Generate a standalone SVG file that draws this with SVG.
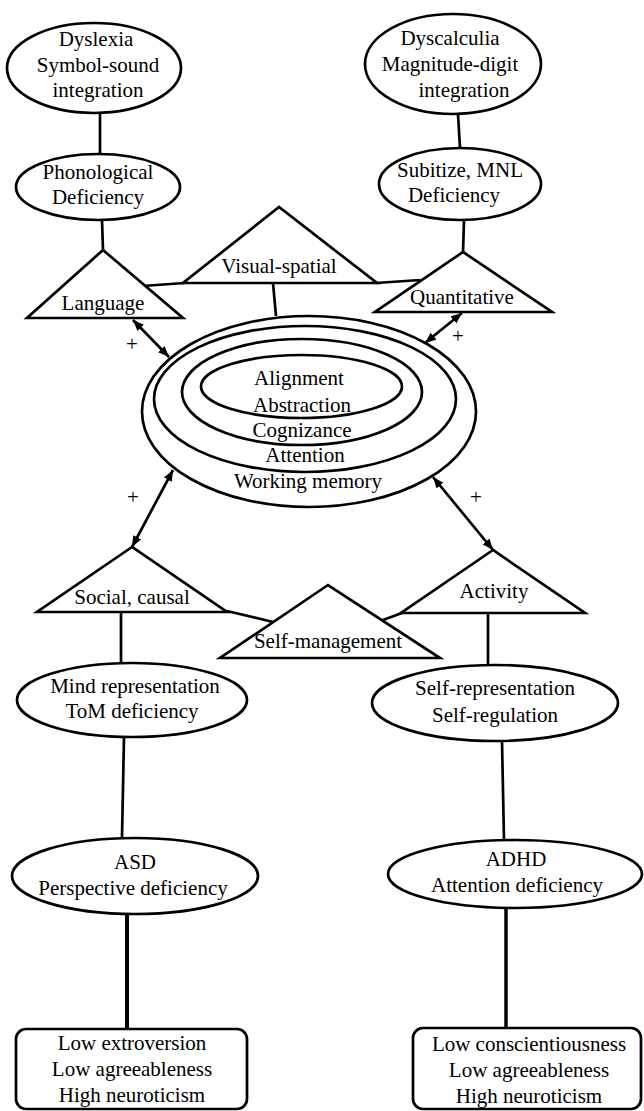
<svg xmlns="http://www.w3.org/2000/svg" width="644" height="1111" viewBox="0 0 644 1111">
<defs>
<style>
.s{fill:#fff;stroke:#000;stroke-width:2.7}
.n{fill:none;stroke:#000;stroke-width:2.7}
.c{fill:none;stroke:#000;stroke-width:2.7}
.t{font-family:"Liberation Serif","Times New Roman",serif;font-size:21px;fill:#000;text-anchor:middle}
</style>
<marker id="ah" markerUnits="userSpaceOnUse" markerWidth="12" markerHeight="10" refX="11" refY="4.5" orient="auto-start-reverse">
<path d="M0,0 L11,4.5 L0,9 z" fill="#000"/>
</marker>
</defs>
<rect width="644" height="1111" fill="#fff"/>
<g id="connectors">
<line class="c" x1="100" y1="113" x2="100" y2="154"/>
<line class="c" x1="102" y1="220" x2="103" y2="250"/>
<line class="c" x1="143" y1="286" x2="184" y2="283"/>
<line class="c" x1="376" y1="283" x2="420" y2="280"/>
<line class="c" x1="273" y1="283" x2="276" y2="316"/>
<line class="c" x1="458" y1="114" x2="460" y2="148"/>
<line class="c" x1="464" y1="220" x2="463" y2="252"/>
<line class="c" x1="133" y1="320" x2="169" y2="357" marker-start="url(#ah)" marker-end="url(#ah)"/>
<line class="c" x1="462" y1="313" x2="425" y2="343" marker-start="url(#ah)" marker-end="url(#ah)"/>
<line class="c" x1="173" y1="470" x2="132" y2="547" marker-start="url(#ah)" marker-end="url(#ah)"/>
<line class="c" x1="433" y1="477" x2="493" y2="550" marker-start="url(#ah)" marker-end="url(#ah)"/>
<line class="c" x1="227" y1="611" x2="273" y2="622"/>
<line class="c" x1="383" y1="620" x2="402" y2="613"/>
<line class="c" x1="121" y1="612" x2="121" y2="663"/>
<line class="c" x1="488" y1="613" x2="488" y2="665"/>
<line class="c" x1="124" y1="737" x2="122" y2="838"/>
<line class="c" x1="502" y1="741" x2="504" y2="840"/>
<line class="c" style="stroke-width:4" x1="127" y1="914" x2="127" y2="1029"/>
<line class="c" style="stroke-width:3.5" x1="506" y1="908" x2="506" y2="1028"/>
</g>
<g id="dyslexia">
<ellipse class="s" cx="94" cy="68" rx="87" ry="45"/>
<text class="t" x="96" y="46">Dyslexia</text>
<text class="t" x="98" y="72">Symbol-sound</text>
<text class="t" x="98" y="97">integration</text>
</g>
<g id="phonological">
<ellipse class="s" cx="98" cy="187" rx="82" ry="33"/>
<text class="t" x="98" y="179">Phonological</text>
<text class="t" x="98" y="204">Deficiency</text>
</g>
<g id="language">
<polygon class="s" points="103,250 27,318 183,318"/>
<text class="t" x="103" y="310">Language</text>
</g>
<g id="visual-spatial">
<polygon class="s" points="279,207 183,283 377,283"/>
<text class="t" x="279" y="273">Visual-spatial</text>
</g>
<g id="quantitative">
<polygon class="s" points="463,252 375,312 552,312"/>
<text class="t" x="462" y="304">Quantitative</text>
</g>
<g id="dyscalculia">
<ellipse class="s" cx="453" cy="64" rx="88" ry="50"/>
<text class="t" x="450" y="45">Dyscalculia</text>
<text class="t" x="450" y="71">Magnitude-digit</text>
<text class="t" x="464" y="97">integration</text>
</g>
<g id="subitize">
<ellipse class="s" cx="460" cy="184" rx="81" ry="36"/>
<text class="t" x="460" y="177">Subitize, MNL</text>
<text class="t" x="454" y="202">Deficiency</text>
</g>
<g id="core">
<ellipse class="n" cx="309" cy="411.5" rx="167" ry="95.5"/>
<ellipse class="n" cx="305" cy="399" rx="151" ry="73"/>
<ellipse class="n" cx="302" cy="392" rx="120" ry="53"/>
<ellipse class="n" cx="301.5" cy="386.5" rx="100.5" ry="31.5"/>
<text class="t" x="299" y="385">Alignment</text>
<text class="t" x="302" y="412">Abstraction</text>
<text class="t" x="302" y="437">Cognizance</text>
<text class="t" x="305" y="462">Attention</text>
<text class="t" x="308" y="488">Working memory</text>
</g>
<g id="plus-signs">
<text class="t" x="132" y="351">+</text>
<text class="t" x="458" y="343">+</text>
<text class="t" x="133" y="504">+</text>
<text class="t" x="476" y="504">+</text>
</g>
<g id="social">
<polygon class="s" points="132,547 37,612 227,612"/>
<text class="t" x="132" y="604">Social, causal</text>
</g>
<g id="self-management">
<polygon class="s" points="328,585 220,658 440,658"/>
<text class="t" x="328" y="648">Self-management</text>
</g>
<g id="activity">
<polygon class="s" points="493,550 401,613 585,613"/>
<text class="t" x="494" y="598">Activity</text>
</g>
<g id="mind-representation">
<ellipse class="s" cx="132" cy="700" rx="115" ry="37"/>
<text class="t" x="135" y="693">Mind representation</text>
<text class="t" x="132" y="718">ToM deficiency</text>
</g>
<g id="asd">
<ellipse class="s" cx="135" cy="876" rx="123" ry="38"/>
<text class="t" x="135" y="869">ASD</text>
<text class="t" x="133" y="895">Perspective deficiency</text>
</g>
<g id="traits-left">
<rect class="s" x="16" y="1029" width="231" height="80" rx="10"/>
<text class="t" x="132" y="1050">Low extroversion</text>
<text class="t" x="132" y="1076">Low agreeableness</text>
<text class="t" x="132" y="1102">High neuroticism</text>
</g>
<g id="self-representation">
<ellipse class="s" cx="495" cy="703" rx="123" ry="38"/>
<text class="t" x="495" y="695">Self-representation</text>
<text class="t" x="495" y="722">Self-regulation</text>
</g>
<g id="adhd">
<ellipse class="s" cx="515" cy="874" rx="127" ry="34"/>
<text class="t" x="516" y="866">ADHD</text>
<text class="t" x="517" y="892">Attention deficiency</text>
</g>
<g id="traits-right">
<rect class="s" x="413" y="1028" width="228" height="81" rx="10"/>
<text class="t" x="529" y="1051">Low conscientiousness</text>
<text class="t" x="529" y="1077">Low agreeableness</text>
<text class="t" x="529" y="1103">High neuroticism</text>
</g>
</svg>
